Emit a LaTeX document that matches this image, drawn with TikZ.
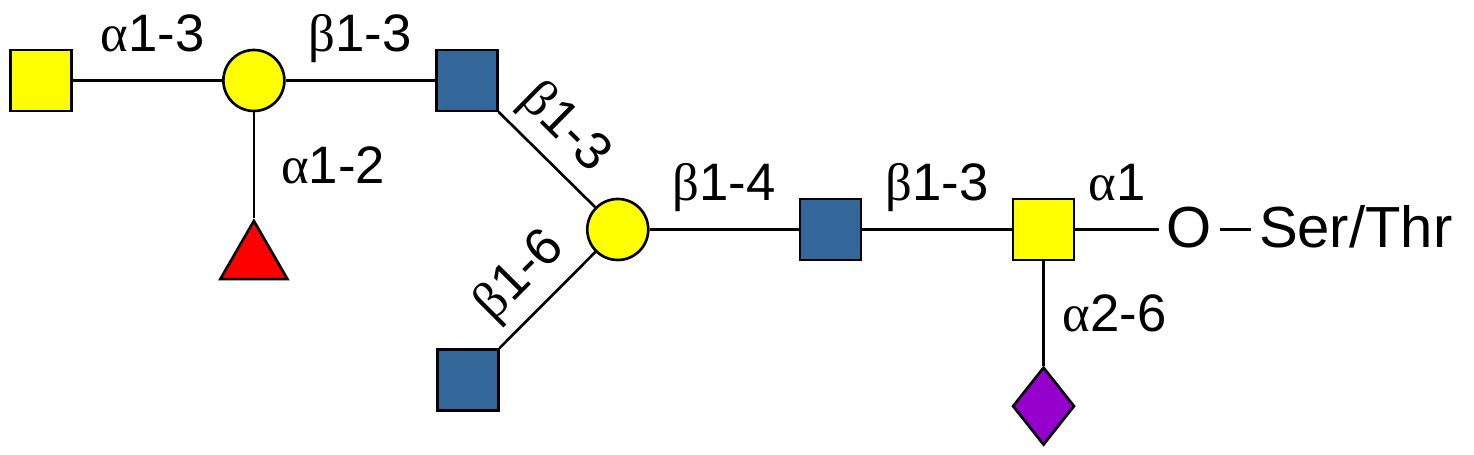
\documentclass[tikz,border=0pt]{standalone}
\usepackage{fontspec}
\setmainfont{Liberation Sans}
\newfontfamily\greekFont{Liberation Serif}
\usepackage{xcolor}
\definecolor{GALNACCOLOR}{RGB}{255,255,0}
\colorlet{GALCOLOR}{GALNACCOLOR}
\definecolor{GLCNACCOLOR}{RGB}{51,102,153}
\definecolor{FUCCOLOR}{RGB}{255,0,0}
\definecolor{NEUACCOLOR}{RGB}{150,0,205}
\usetikzlibrary{shapes.geometric,positioning,calc}
\tikzset{
  residue-style/.style = {
    draw, line width=1.5pt,
    fill=#1,
    minimum size=1.22cm,
    inner sep=0pt
  },
  galnac-style/.style = {
    residue-style=GALNACCOLOR, rectangle
  },
  gal-style/.style = {
    residue-style=GALCOLOR, circle
  },
  glcnac-style/.style = {
    residue-style=GLCNACCOLOR, rectangle
  },
  fuc-style/.style = {
    residue-style=FUCCOLOR,
    regular polygon, regular polygon sides=3,
    minimum size=1.55cm
  },
  neuac-style/.style = {
    residue-style=NEUACCOLOR, diamond,
    minimum width=1.24cm,
    minimum height=1.56cm
  },
  link-line/.style = {
    line width=1.5pt
  },
  link-style/.style = {
    font=\fontsize{30}{36}\selectfont,
    inner sep=0pt, text depth=0pt
  },
  aglycon-style/.style = {
    font=\fontsize{33}{40}\selectfont,
    inner sep=0.15cm, text height=0.84cm, text depth=0.12cm
  }
}
\newlength\residueDistance
\setlength\residueDistance{2.985cm}
\newcommand\linkName[2]{{\greekFont #1}#2}
\def\createResidue name:#1 kind:#2 direct:#3 dist:#4 to:#5;{
  \node [#2-style, #3=#4 of #5] (#1) {};
}

\begin{document}
\begin{tikzpicture}
  \useasboundingbox (0,0) rectangle (29.48,9.10);
  % outer arm
  \node [galnac-style] (galnacA) at (0.82,7.49) {};
  \createResidue name:galA kind:gal direct:right dist:{\residueDistance} to:galnacA;
  \createResidue name:glcnacA kind:glcnac direct:right dist:{\residueDistance} to:galA;
  \createResidue name:fuc kind:fuc direct:below dist:2.12cm to:galA;

  % core
  \node [gal-style] (galB) at ($(glcnacA)+(3.02,-2.98)$) {};
  \node [glcnac-style] (glcnacB) at ($(galB)+(-3.0,-3.01)$) {};
  \createResidue name:glcnacC kind:glcnac direct:right dist:{\residueDistance} to:galB;
  \createResidue name:galnacB kind:galnac direct:right dist:{\residueDistance} to:glcnacC;
  \createResidue name:neuac kind:neuac direct:below dist:2.09cm to:galnacB;
  \node [aglycon-style, right=1.67cm of galnacB] (oxy) {O};
  \node [aglycon-style, right=0.63cm of oxy] (serthr) {Ser/Thr};

  % linkages
  \draw [link-line] (galnacA) -- node[link-style, above=0.55cm, xshift=0.1cm] {\linkName{α}{1-3}} (galA);
  \draw [link-line] (galA) -- node[link-style, above=0.55cm] {\linkName{β}{1-3}} (glcnacA);
  \draw [link-line] (galA) -- node[link-style, right=0.52cm] {\linkName{α}{1-2}} (fuc);
  \draw [link-line] (glcnacA) -- node[link-style, sloped, above=0.4cm, pos=0.43] {\linkName{β}{1-3}} (galB);
  \draw [link-line] (glcnacB) -- node[link-style, sloped, above=0.42cm, pos=0.48] {\linkName{β}{1-6}} (galB);
  \draw [link-line] (galB) -- node[link-style, above=0.55cm] {\linkName{β}{1-4}} (glcnacC);
  \draw [link-line] (glcnacC) -- node[link-style, above=0.55cm] {\linkName{β}{1-3}} (galnacB);
  \draw [link-line] (galnacB) -- node[link-style, right=0.36cm] {\linkName{α}{2-6}} (neuac);
  \draw [link-line] (galnacB) -- node[link-style, above=0.55cm] {\linkName{α}{1}} (oxy);
  \draw [link-line] (oxy) -- (serthr);
\end{tikzpicture}
\end{document}
